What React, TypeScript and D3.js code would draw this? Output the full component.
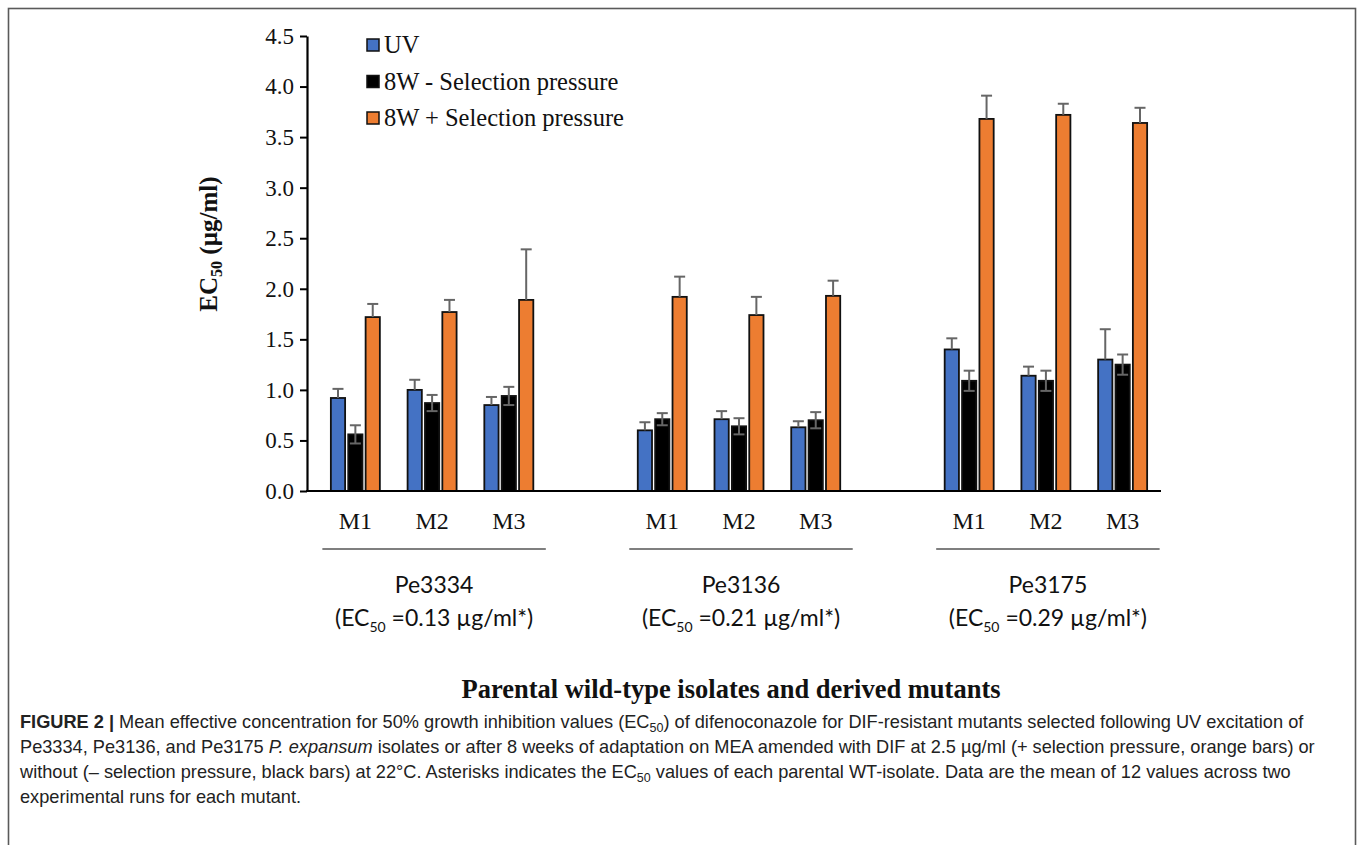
import React, { useEffect, useRef } from 'react';
import * as d3 from 'd3';

// values (µg/ml)
const isolates = ['Pe3334', 'Pe3136', 'Pe3175'];
const parentEC50 = ['0.13', '0.21', '0.29'];
const mutants = ['M1', 'M2', 'M3'];
const seriesNames = ['UV', '8W - Selection pressure', '8W + Selection pressure'];
const seriesColors = ['#4472C4', '#000000', '#ED7D31'];

const uvMeans = [0.92, 1.0, 0.85, 0.6, 0.71, 0.63, 1.4, 1.14, 1.3];
const uvErr = [0.09, 0.1, 0.08, 0.08, 0.08, 0.06, 0.11, 0.09, 0.3];
const minusMeans = [0.56, 0.87, 0.94, 0.71, 0.64, 0.7, 1.09, 1.09, 1.25];
const minusErr = [0.09, 0.08, 0.09, 0.06, 0.08, 0.08, 0.1, 0.1, 0.1];
const plusMeans = [1.72, 1.77, 1.89, 1.92, 1.74, 1.93, 3.68, 3.72, 3.64];
const plusErr = [0.13, 0.12, 0.5, 0.2, 0.18, 0.15, 0.23, 0.11, 0.15];

const yTicks = [0, 0.5, 1, 1.5, 2, 2.5, 3, 3.5, 4, 4.5];

const captionLines = [
  'Mean effective concentration for 50% growth inhibition values (EC',
  'Pe3334, Pe3136, and Pe3175 ',
  'without (– selection pressure, black bars) at 22°C. Asterisks indicates the EC',
  'experimental runs for each mutant.'
];

const width = 1357;
const height = 845;
const margin = { top: 36, left: 307, right: 1161, bottom: 491 };

const App = () => {
  const axisRef = useRef<SVGGElement>(null);

  const y = d3.scaleLinear().domain([0, 4.5]).range([margin.bottom, margin.top]);
  // 11 slots: 3 mutants, a blank slot, 3 mutants, a blank slot, 3 mutants
  const x = d3.scaleBand<number>().domain(d3.range(11)).range([317, margin.right]);
  const inner = d3.scaleBand<number>().domain([0, 1, 2]).range([-24.5, 24.5]).paddingInner(0.18);

  const series = [
    { means: uvMeans, err: uvErr, lower: false },
    { means: minusMeans, err: minusErr, lower: true },
    { means: plusMeans, err: plusErr, lower: false }
  ];

  const slotOf = (i: number) => Math.floor(i / 3) * 4 + (i % 3);
  const center = (i: number) => (x(slotOf(i)) as number) + x.bandwidth() / 2;

  useEffect(() => {
    const g = d3.select(axisRef.current);
    g.selectAll('*').remove();
    g.call(
      d3.axisLeft(y).tickValues(yTicks).tickFormat(d3.format('.1f')).tickSize(7).tickSizeOuter(0).tickPadding(6)
    );
    g.select('.domain').attr('stroke', '#000').attr('stroke-width', 2.2);
    g.selectAll('.tick line').attr('stroke', '#000').attr('stroke-width', 2);
    g.selectAll('.tick text')
      .attr('font-family', '"Liberation Serif", "Times New Roman", serif')
      .attr('font-size', 23)
      .attr('fill', '#111');
  }, []);

  const serif = '"Liberation Serif", "Times New Roman", serif';
  const sans = 'Lato, "Liberation Sans", sans-serif';
  const capFont = '"Liberation Sans", Arial, sans-serif';

  return (
    <svg
      width={width}
      height={height}
      style={{ position: 'absolute', left: 0, top: 0, background: '#fff' }}
    >
      <rect x={8.5} y={8.5} width={1347} height={860} fill='none' stroke='#5a5a5a' strokeWidth={1.6} />

      {/* bars */}
      {series.map((s, si) =>
        s.means.map((v, i) => {
          const bx = center(i) + (inner(si) as number);
          return (
            <rect
              key={`bar-${si}-${i}`}
              x={bx}
              y={y(v)}
              width={inner.bandwidth()}
              height={y(0) - y(v)}
              fill={seriesColors[si]}
              stroke='#111'
              strokeWidth={1.8}
            />
          );
        })
      )}

      {/* error bars */}
      {series.map((s, si) =>
        s.means.map((v, i) => {
          const cx = center(i) + (inner(si) as number) + inner.bandwidth() / 2;
          const top = y(v + s.err[i]);
          const bottom = s.lower ? y(v - s.err[i]) : y(v);
          return (
            <g key={`err-${si}-${i}`} stroke='#666' strokeWidth={2}>
              <line x1={cx} x2={cx} y1={top} y2={bottom} />
              <line x1={cx - 5.5} x2={cx + 5.5} y1={top} y2={top} />
              {s.lower && <line x1={cx - 5.5} x2={cx + 5.5} y1={bottom} y2={bottom} />}
            </g>
          );
        })
      )}

      <g ref={axisRef} transform={`translate(${margin.left},0)`} />
      <line x1={margin.left - 1} x2={margin.right} y1={y(0)} y2={y(0)} stroke='#000' strokeWidth={2.2} />

      {/* mutant labels */}
      {uvMeans.map((d, i) => (
        <text key={`m-${i}`} x={center(i)} y={529} textAnchor='middle' fontFamily={serif} fontSize={24} fill='#111'>
          {mutants[i % 3]}
        </text>
      ))}

      {/* isolate groups */}
      {isolates.map((iso, gi) => {
        const x0 = center(gi * 3) - 33;
        const x1 = center(gi * 3 + 2) + 37;
        const mid = (center(gi * 3) + center(gi * 3 + 2)) / 2 + 2;
        return (
          <g key={`iso-${gi}`}>
            <line x1={x0} x2={x1} y1={549} y2={549} stroke='#555' strokeWidth={1.5} />
            <text x={mid} y={593} textAnchor='middle' fontFamily={sans} fontSize={23} fill='#111'>
              {iso}
            </text>
            <text x={mid} y={626} textAnchor='middle' fontFamily={sans} fontSize={23} fill='#111'>
              (EC<tspan fontSize={14} dy={6}>50</tspan>
              <tspan dy={-6}> =</tspan>{parentEC50[gi]} µg/ml*)
            </text>
          </g>
        );
      })}

      {/* y axis title */}
      <text
        transform='translate(217,244) rotate(-90)'
        textAnchor='middle'
        fontFamily={serif}
        fontWeight='bold'
        fontSize={25}
        fill='#111'
      >
        EC<tspan fontSize={16} dy={5}>50</tspan>
        <tspan dy={-5}> (µg/ml)</tspan>
      </text>

      {/* legend */}
      {seriesNames.map((n, i) => (
        <g key={`leg-${i}`} transform={`translate(367,${45 + i * 36.5})`}>
          <rect x={0} y={-6} width={12} height={12} fill={seriesColors[i]} stroke='#111' strokeWidth={1.5} />
          <text x={17} y={8} fontFamily={serif} fontSize={24.5} fill='#111'>
            {n}
          </text>
        </g>
      ))}

      <text x={731} y={698} textAnchor='middle' fontFamily={serif} fontWeight='bold' fontSize={26.5} fill='#111'>
        Parental wild-type isolates and derived mutants
      </text>

      {/* caption */}
      <g fontFamily={capFont} fontSize={18.2} fill='#222'>
        <text x={20} y={728}>
          <tspan fontWeight='bold'>FIGURE 2 | </tspan>
          {captionLines[0]}
          <tspan fontSize={12.5} dy={4}>50</tspan>
          <tspan dy={-4}>) of difenoconazole for DIF-resistant mutants selected following UV excitation of</tspan>
        </text>
        <text x={20} y={753}>
          {captionLines[1]}
          <tspan fontStyle='italic'>P. expansum</tspan>
          {' isolates or after 8 weeks of adaptation on MEA amended with DIF at 2.5 µg/ml (+ selection pressure, orange bars) or'}
        </text>
        <text x={20} y={778}>
          {captionLines[2]}
          <tspan fontSize={12.5} dy={4}>50</tspan>
          <tspan dy={-4}> values of each parental WT-isolate. Data are the mean of 12 values across two</tspan>
        </text>
        <text x={20} y={803}>
          {captionLines[3]}
        </text>
      </g>
    </svg>
  );
};

export default App;
